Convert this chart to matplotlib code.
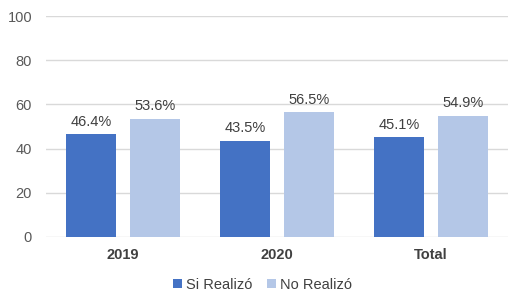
import matplotlib
matplotlib.use("Agg")
import matplotlib.pyplot as plt
import numpy as np

categories = ["2019", "2020", "Total"]
series_names = ["Si Realizó", "No Realizó"]
si_realizo = [46.4, 43.5, 45.1]
no_realizo = [53.6, 56.5, 54.9]
yticks = [0, 20, 40, 60, 80, 100]

plt.rcParams['font.family'] = ['Liberation Sans', 'DejaVu Sans']

fig = plt.figure(figsize=(5.25, 3.06), dpi=100)
ax = fig.add_axes([46/525, 1 - 237/306, 462/525, 221/306])

x = np.arange(len(categories))
w = 0.325
off = 0.208
colors = ["#4472C4", "#B4C7E7"]
b1 = ax.bar(x - off, si_realizo, w, color=colors[0], label=series_names[0], zorder=3)
b2 = ax.bar(x + off, no_realizo, w, color=colors[1], label=series_names[1], zorder=3)

for bars, vals in ((b1, si_realizo), (b2, no_realizo)):
    for r, v in zip(bars, vals):
        ax.annotate(f"{v:.1f}%", (r.get_x() + r.get_width()/2, v),
                    xytext=(0, 4), textcoords="offset points",
                    ha="center", va="bottom", fontsize=10.5, color="#404040")

ax.set_xlim(-0.5, 2.5)
ax.set_ylim(0, 100)
ax.set_yticks(yticks)
ax.set_xticks(x)
ax.set_xticklabels(categories, fontweight="bold", fontsize=10.5, color="#404040")
ax.tick_params(axis="y", length=0, labelsize=10.5, labelcolor="#595959", pad=10)
ax.tick_params(axis="x", length=0, pad=8)
ax.grid(axis="y", color="#D9D9D9", linewidth=1, zorder=0)
for s in ax.spines.values():
    s.set_visible(False)

fig.legend(handles=[b1, b2], labels=series_names, loc="center",
           bbox_to_anchor=(0.5, 1 - 285/306), ncol=2, frameon=False,
           fontsize=10.5, handlelength=0.6, handleheight=0.6,
           handletextpad=0.3, columnspacing=1.0, labelcolor="#404040")

fig.savefig("out.png", dpi=100)
